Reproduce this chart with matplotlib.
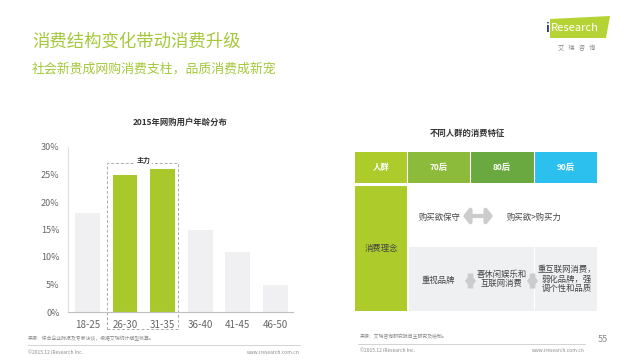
import matplotlib
matplotlib.use("Agg")
import matplotlib.pyplot as plt
import matplotlib.patches as mpatches

plt.rcParams["font.family"] = ["Noto Sans CJK SC", "DejaVu Sans"]

# ---- data ----
AGES = ["18-25", "26-30", "31-35", "36-40", "41-45", "46-50"]
SHARES = [18, 25, 26, 15, 11, 5]
MAIN_GROUPS = ["26-30", "31-35"]
Y_TICKS = [0, 5, 10, 15, 20, 25, 30]

TABLE_HEADERS = ["人群", "70后", "80后", "90后"]
HEADER_COLORS = ["#aecb2c", "#8cbb3b", "#6aa93f", "#2cc0ee"]
ROW_LABEL = "消费理念"
ROW1_TEXTS = ["购买欲保守", "购买欲>购买力"]
ROW2_TEXTS = ["重视品牌", "喜休闲娱乐和\n互联网消费", "重互联网消费，\n弱化品牌，强\n调个性和品质"]

TITLE = "消费结构变化带动消费升级"
SUBTITLE = "社会新贵成网购消费支柱，品质消费成新宠"
BAR_TITLE = "2015年网购用户年龄分布"
TABLE_TITLE = "不同人群的消费特征"

GREEN = "#a9c82c"
GRAY_BAR = "#f0f0f3"
TEXT = "#666666"

fig = plt.figure(figsize=(6.4, 3.6), dpi=100)

# overlay in pixel coordinates for page decoration
bg = fig.add_axes([0, 0, 1, 1])
bg.set_xlim(0, 640)
bg.set_ylim(360, 0)
bg.axis("off")

bg.text(32, 42, TITLE, fontsize=12.5, color="#a5c83a", va="center", ha="left",
        fontweight="light")
bg.text(32, 69, SUBTITLE, fontsize=9.3, color="#a5c83a", va="center", ha="left",
        fontweight="light")

# logo
bg.add_patch(mpatches.Polygon([[550, 19], [610, 16], [606, 38], [550, 38]],
                              closed=True, color="#b5d334", lw=0))
bg.text(545, 28, "i", fontsize=9, color="#2e3a8c", va="center", ha="left", fontweight="bold")
bg.text(551, 28, "Research", fontsize=8, color="white", va="center", ha="left")
bg.text(577, 48, "艾   瑞   咨   询", fontsize=4.5, color="#888888", va="center", ha="center")

# ---- bar chart ----
ax = fig.add_axes([68 / 640, 48 / 360, 225 / 640, 165 / 360])
x = range(len(AGES))
colors = [GREEN if a in MAIN_GROUPS else GRAY_BAR for a in AGES]
ax.bar(x, SHARES, width=0.66, color=colors)
ax.set_xlim(-0.52, 5.47)
ax.set_ylim(0, 30)
ax.set_yticks(Y_TICKS)
ax.set_yticklabels([f"{t}%" for t in Y_TICKS], fontsize=6.5, color=TEXT)
ax.set_xticks(list(x))
ax.set_xticklabels(AGES, fontsize=7, color=TEXT)
ax.tick_params(length=0, pad=6)
for s in ["top", "right"]:
    ax.spines[s].set_visible(False)
ax.spines["left"].set_color("#e0e0e0")
ax.spines["bottom"].set_color("#bfbfbf")
ax.set_title(BAR_TITLE, fontsize=6, fontweight="bold", color="#333333", pad=16)

i0 = AGES.index(MAIN_GROUPS[0])
i1 = AGES.index(MAIN_GROUPS[-1])
ax.add_patch(mpatches.Rectangle((i0 - 0.49, -3.1), (i1 - i0) + 0.9, 30.2,
                                fill=False, ls=(0, (3, 2)), lw=0.7,
                                edgecolor="#aaaaaa", clip_on=False))
ax.text((i0 + i1) / 2, 27.5, "主力", fontsize=5, fontweight="bold", color="#333333",
        ha="center", va="center", bbox=dict(facecolor="white", edgecolor="none", pad=1))

# ---- table ----
bg.text(467, 133, TABLE_TITLE, fontsize=6, fontweight="bold", color="#333333",
        ha="center", va="center")
col_edges = [355, 407, 470, 534, 597]
for i, (h, c) in enumerate(zip(TABLE_HEADERS, HEADER_COLORS)):
    bg.add_patch(mpatches.Rectangle((col_edges[i], 152), col_edges[i + 1] - col_edges[i], 31,
                                    color=c, lw=0))
    bg.text((col_edges[i] + col_edges[i + 1]) / 2, 167.5, h, fontsize=6, color="white",
            fontweight="bold", ha="center", va="center")
for xe in col_edges[1:-1]:
    bg.plot([xe, xe], [152, 183], color="white", lw=0.8)

bg.add_patch(mpatches.Rectangle((355, 186), 52, 125, color=HEADER_COLORS[0], lw=0))
bg.text(381, 248, ROW_LABEL, fontsize=6, color="#444444", ha="center", va="center")
bg.add_patch(mpatches.Rectangle((409, 247), 188, 64, color="#eff0f2", lw=0))
bg.plot([534, 534], [247, 311], color="white", lw=0.8)

arrow_kw = dict(arrowstyle="<|-|>,head_length=0.35,head_width=0.45", color="#cccccc",
                lw=3, shrinkA=0, shrinkB=0)
bg.text(440, 217, ROW1_TEXTS[0], fontsize=6, color="#444444", ha="center", va="center")
bg.annotate("", xy=(493, 216), xytext=(463, 216), arrowprops=arrow_kw)
bg.text(534, 217, ROW1_TEXTS[1], fontsize=6, color="#444444", ha="center", va="center")

arrow_kw2 = dict(arrow_kw, lw=2.2)
bg.text(438, 280, ROW2_TEXTS[0], fontsize=6, color="#444444", ha="center", va="center")
bg.annotate("", xy=(476, 281), xytext=(465, 281), arrowprops=arrow_kw2)
bg.text(502, 279, ROW2_TEXTS[1], fontsize=6, color="#444444", ha="center", va="center",
        linespacing=1.1)
bg.annotate("", xy=(538, 281), xytext=(527, 281), arrowprops=arrow_kw2)
bg.text(567, 279, ROW2_TEXTS[2], fontsize=6, color="#444444", ha="center", va="center",
        linespacing=1.1)

# ---- footers ----
foot = dict(fontsize=3.5, color="#888888", va="center")
bg.text(28, 338, "来源：综合企业财报及专家访谈，根据艾瑞统计模型核算。", ha="left", **foot)
bg.plot([28, 300], [345, 345], color="#cccccc", lw=0.6)
bg.text(28, 352, "©2015.12 iResearch Inc.", ha="left", **foot)
bg.text(300, 352, "www.iresearch.com.cn", ha="right", **foot)

bg.text(360, 337, "来源：艾瑞咨询研究院自主研究及绘制。", ha="left", **foot)
bg.plot([358, 585], [344, 344], color="#cccccc", lw=0.6)
bg.text(360, 351, "©2015.12 iResearch Inc.", ha="left", **foot)
bg.text(585, 351, "www.iresearch.com.cn", ha="right", **foot)
bg.text(603, 340, "55", fontsize=6.5, color="#888888", ha="center", va="center")

fig.savefig("out.png", dpi=100, facecolor="white")
